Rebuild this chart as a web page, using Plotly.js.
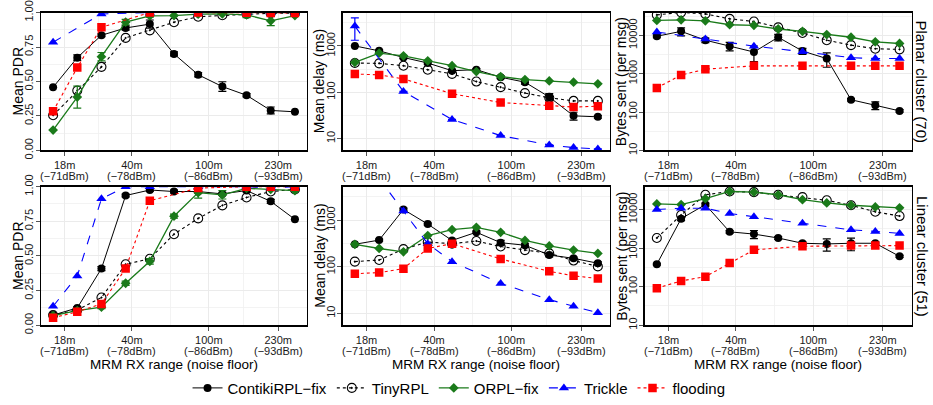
<!DOCTYPE html>
<html>
<head>
<meta charset="utf-8">
<script src="https://cdn.plot.ly/plotly-3.0.1.min.js"></script>
<style>html,body{margin:0;padding:0;background:#fff;}#chart{width:933px;height:405px;}</style>
</head>
<body>
<div id="chart"></div>
<script>
// ---- x settings (index of MRM RX range setting) ----
const X_INDEX = [0, 1, 2, 3, 4, 5, 6, 7, 8, 9, 10];
const X_TICK_POS = [0.48, 3.26, 6.44, 9.31];
const X_TICK_RANGE = ["18m", "40m", "100m", "230m"];
const X_TICK_NOISE = ["(−71dBm)", "(−78dBm)", "(−86dBm)", "(−93dBm)"];
const SERIES_NAMES = ["ContikiRPL−fix", "TinyRPL", "ORPL−fix", "Trickle", "flooding"];
const ROW_LABELS = ["Planar cluster (70)", "Linear cluster (51)"];
const Y_TITLES = ["Mean PDR", "Mean delay (ms)", "Bytes sent (per msg)"];

// ---- Planar cluster: PDR ----
const PLANAR_PDR_CONTIKI = [0.458, 0.673, 0.835, 0.888, 0.916, 0.700, 0.549, 0.463, 0.400, 0.290, 0.280];
const PLANAR_PDR_CONTIKI_ERR = [0, 0.02, 0.01, 0.015, 0.03, 0.015, 0.015, 0.035, 0.012, 0.025, 0];
const PLANAR_PDR_TINY = [0.255, 0.434, 0.606, 0.816, 0.871, 0.930, 0.970, 0.980, 0.990, 0.995, 0.995];
const PLANAR_PDR_ORPL = [0.148, 0.387, 0.680, 0.930, 0.976, 0.978, 0.988, 0.990, 0.983, 0.940, 0.978];
const PLANAR_PDR_ORPL_ERR = [0, 0.08, 0.03, 0.02, 0.01, 0, 0, 0, 0.02, 0.035, 0];
const PLANAR_PDR_TRICKLE = [0.785, null, 0.990, null, 1.0, null, 1.0, null, 1.0, 1.0, 1.0];
const PLANAR_PDR_FLOOD = [0.284, 0.601, 0.893, null, 1.0, null, 1.0, null, 0.998, 0.997, 0.997];

// ---- Planar cluster: delay (ms) ----
const PLANAR_DELAY_CONTIKI = [1000, 782, 563, 427, 292, 307, 211, 165, 79, 31, 29.5];
const PLANAR_DELAY_CONTIKI_ERR = [0, 40, 30, 25, 20, 15, 15, 15, 14, 6, 2];
const PLANAR_DELAY_TINY = [427, 420, 374, 307, 249, 170, 129, 96, 76, 65, 65];
const PLANAR_DELAY_ORPL = [441, 697, 612, 478, 374, 279, 218, 188, 176, 165, 152];
const PLANAR_DELAY_TRICKLE = [2674, null, 104, null, 25.9, null, 11.6, null, 7.3, 6.4, 6.0];
const PLANAR_DELAY_TRICKLE_ERR = [1350, 0, 0, 0, 0, 0, 0, 0, 0, 0, 0];
const PLANAR_DELAY_FLOOD = [248, 237, 194, null, 93, null, 60, null, 51, 48, 50];

// ---- Planar cluster: bytes sent (per msg) ----
const PLANAR_BYTES_CONTIKI = [9425, 12660, 7440, 5210, 3656, 8880, 3880, 2467, 209, 150, 107];
const PLANAR_BYTES_CONTIKI_ERR = [800, 3000, 1000, 1300, 1600, 1700, 700, 1000, 15, 35, 8];
const PLANAR_BYTES_TINY = [33950, 39500, 36000, 26800, 22900, 16050, 11480, 7440, 5530, 4460, 4290];
const PLANAR_BYTES_ORPL = [24300, 25300, 23800, 18800, 18100, 14560, 12680, 10400, 8880, 6740, 6110];
const PLANAR_BYTES_TRICKLE = [12180, null, 8050, null, 5210, null, 3730, null, 2610, 2470, 2470];
const PLANAR_BYTES_FLOOD = [425, 918, 1310, null, 1596, null, 1596, null, 1596, 1596, 1596];

// ---- Linear cluster: PDR ----
const LINEAR_PDR_CONTIKI = [0.073, 0.125, 0.409, 0.936, 0.976, 0.965, 0.965, 0.948, 0.972, 0.894, 0.764];
const LINEAR_PDR_CONTIKI_ERR = [0.01, 0.01, 0.015, 0.01, 0.01, 0.01, 0.01, 0.01, 0.01, 0.015, 0];
const LINEAR_PDR_TINY = [0.073, 0.110, 0.200, 0.440, 0.480, 0.657, 0.771, 0.865, 0.922, 0.965, 0.980];
const LINEAR_PDR_ORPL = [0.070, 0.106, 0.130, 0.303, 0.461, 0.787, 0.957, 0.941, 0.988, 0.980, 0.972];
const LINEAR_PDR_ORPL_ERR = [0, 0, 0.01, 0.015, 0.02, 0.015, 0.04, 0.03, 0, 0, 0];
const LINEAR_PDR_TRICKLE = [0.137, 0.355, 0.913, 1.0, 1.0, null, 1.0, null, 1.0, 0.99, 1.0];
const LINEAR_PDR_FLOOD = [0.054, 0.097, 0.154, 0.409, 0.898, null, 0.99, null, 1.0, 1.0, 1.0];

// ---- Linear cluster: delay (ms) ----
const LINEAR_DELAY_CONTIKI = [304, 374, 1700, 825, 368, 551, 329, 290, 179, 152, 119];
const LINEAR_DELAY_CONTIKI_ERR = [10, 20, 120, 40, 20, 30, 40, 30, 15, 10, 8];
const LINEAR_DELAY_TINY = [129, 140, 239, 340, 314, 357, 272, 228, 194, 136, 102];
const LINEAR_DELAY_ORPL = [304, 247, 210, 469, 627, 702, 551, 368, 280, 228, 194];
const LINEAR_DELAY_TRICKLE = [30000, 7850, 1570, 314, 129, null, 44, null, 19.7, 14.3, 10.3];
const LINEAR_DELAY_FLOOD = [71, 75, 91, 247, 314, null, 147, null, 80, 64, 56];

// ---- Linear cluster: bytes sent (per msg) ----
const LINEAR_BYTES_CONTIKI = [381, 5780, 13400, 2640, 2306, 1825, 1334, 1282, 1334, 1334, 610];
const LINEAR_BYTES_CONTIKI_ERR = [20, 600, 1200, 200, 550, 150, 120, 450, 480, 100, 40];
const LINEAR_BYTES_TINY = [1825, 7180, 24100, 29300, 28200, 24100, 21000, 17300, 12900, 8720, 6760];
const LINEAR_BYTES_ORPL = [13940, 13400, 19070, 29300, 28200, 24100, 18000, 14800, 12900, 11700, 11030];
const LINEAR_BYTES_TRICKLE = [10000, 10800, 10800, 7910, 6500, null, 4400, null, 2970, 2700, 2400];
const LINEAR_BYTES_FLOOD = [91, 141, 181, 412, 902, null, 1117, null, 1160, 1160, 1160];

// ---- styling ----
const STYLES = [
  {color: "#000000", symbol: "circle", size: 8, dash: "solid", width: 1},
  {color: "#000000", symbol: "circle-open-dot", size: 9, dash: "dot", width: 1.1},
  {color: "#1a7a1a", symbol: "diamond", size: 7.5, dash: "solid", width: 1.3},
  {color: "#0000ff", symbol: "triangle-up", size: 9, dash: "dash", width: 1.1},
  {color: "#ff0000", symbol: "square", size: 8.5, dash: "dot", width: 1.1}
];

const PANELS = [
  [[PLANAR_PDR_CONTIKI, PLANAR_PDR_TINY, PLANAR_PDR_ORPL, PLANAR_PDR_TRICKLE, PLANAR_PDR_FLOOD],
   [PLANAR_PDR_CONTIKI_ERR, null, PLANAR_PDR_ORPL_ERR, null, null]],
  [[PLANAR_DELAY_CONTIKI, PLANAR_DELAY_TINY, PLANAR_DELAY_ORPL, PLANAR_DELAY_TRICKLE, PLANAR_DELAY_FLOOD],
   [PLANAR_DELAY_CONTIKI_ERR, null, null, PLANAR_DELAY_TRICKLE_ERR, null]],
  [[PLANAR_BYTES_CONTIKI, PLANAR_BYTES_TINY, PLANAR_BYTES_ORPL, PLANAR_BYTES_TRICKLE, PLANAR_BYTES_FLOOD],
   [PLANAR_BYTES_CONTIKI_ERR, null, null, null, null]],
  [[LINEAR_PDR_CONTIKI, LINEAR_PDR_TINY, LINEAR_PDR_ORPL, LINEAR_PDR_TRICKLE, LINEAR_PDR_FLOOD],
   [LINEAR_PDR_CONTIKI_ERR, null, LINEAR_PDR_ORPL_ERR, null, null]],
  [[LINEAR_DELAY_CONTIKI, LINEAR_DELAY_TINY, LINEAR_DELAY_ORPL, LINEAR_DELAY_TRICKLE, LINEAR_DELAY_FLOOD],
   [LINEAR_DELAY_CONTIKI_ERR, null, null, null, null]],
  [[LINEAR_BYTES_CONTIKI, LINEAR_BYTES_TINY, LINEAR_BYTES_ORPL, LINEAR_BYTES_TRICKLE, LINEAR_BYTES_FLOOD],
   [LINEAR_BYTES_CONTIKI_ERR, null, null, null, null]]
];

const W = 933, H = 405;
const COL_PX = [[41, 307], [342.7, 610], [644.7, 911.7]];
const ROW_PX = [[12.7, 152.3], [189, 329.3]];
const FONT = "Liberation Sans, Arial, Helvetica, sans-serif";

const traces = [];
const layout = {
  width: W, height: H,
  margin: {l: 0, r: 0, t: 0, b: 0},
  paper_bgcolor: "#fff", plot_bgcolor: "#fff",
  font: {family: FONT, size: 11, color: "#1a1a1a"},
  showlegend: true,
  legend: {orientation: "h", x: 0.492, xanchor: "center", y: 1 - 393 / H, yanchor: "middle",
           font: {size: 15, color: "#000"}, itemwidth: 30, tracegroupgap: 0, bgcolor: "rgba(0,0,0,0)"},
  annotations: [],
  shapes: []
};

const midpoints = [];
for (let i = 0; i < X_TICK_POS.length - 1; i++) midpoints.push((X_TICK_POS[i] + X_TICK_POS[i + 1]) / 2);

for (let p = 0; p < 6; p++) {
  const row = Math.floor(p / 3), col = p % 3;
  const ax = p + 1;
  const xa = "xaxis" + (ax === 1 ? "" : ax), ya = "yaxis" + (ax === 1 ? "" : ax);
  const xref = "x" + (ax === 1 ? "" : ax), yref = "y" + (ax === 1 ? "" : ax);
  const dom_x = [COL_PX[col][0] / W, COL_PX[col][1] / W];
  const dom_y = [1 - ROW_PX[row][1] / H, 1 - ROW_PX[row][0] / H];

  layout[xa] = {
    domain: dom_x, anchor: yref, range: [-0.5, 10.5],
    tickmode: "array", tickvals: X_TICK_POS, ticktext: X_TICK_RANGE,
    ticks: "outside", ticklen: 4, tickcolor: "#555", tickwidth: 1,
    tickfont: {size: 11, color: "#1a1a1a"},
    showline: true, mirror: true, linecolor: "#000", linewidth: 1.4,
    showgrid: true, gridcolor: "#ebebeb", gridwidth: 1,
    minor: {tickmode: "array", tickvals: midpoints, showgrid: true, gridcolor: "#f0f0f0", gridwidth: 0.8, ticks: ""},
    zeroline: false, fixedrange: true
  };
  let yax;
  if (col === 0) {
    yax = {type: "linear", range: [0, 1], tickmode: "array", tickvals: [0, 0.25, 0.5, 0.75, 1],
           ticktext: ["0.00", "0.25", "0.50", "0.75", "1.00"],
           minor: {tickmode: "array", tickvals: [0.125, 0.375, 0.625, 0.875], showgrid: true, gridcolor: "#f0f0f0", gridwidth: 0.8, ticks: ""}};
  } else if (col === 1) {
    yax = {type: "log", range: [0.745, 3.72], tickmode: "array", tickvals: [10, 100, 1000], ticktext: ["10", "100", "1000"],
           minor: {tickmode: "array", tickvals: [31.62, 316.2, 3162], showgrid: true, gridcolor: "#f0f0f0", gridwidth: 0.8, ticks: ""}};
  } else {
    yax = {type: "log", range: [1, 4.592], tickmode: "array", tickvals: [10, 100, 1000, 10000], ticktext: ["10", "100", "1000", "10000"],
           minor: {tickmode: "array", tickvals: [31.62, 316.2, 3162, 31623], showgrid: true, gridcolor: "#f0f0f0", gridwidth: 0.8, ticks: ""}};
  }
  Object.assign(yax, {
    domain: dom_y, anchor: xref, tickangle: -90, ticklabelstandoff: -2,
    ticks: "outside", ticklen: 4, tickcolor: "#555", tickwidth: 1,
    tickfont: {size: 11, color: "#1a1a1a"},
    showline: true, mirror: true, linecolor: "#000", linewidth: 1.4,
    showgrid: true, gridcolor: "#ebebeb", gridwidth: 1,
    zeroline: false, fixedrange: true
  });
  layout[ya] = yax;

  const [vals, errs] = PANELS[p];
  for (let s = 0; s < 5; s++) {
    const st = STYLES[s];
    const tr = {
      type: "scatter", mode: "lines+markers", x: X_INDEX, y: vals[s],
      xaxis: xref, yaxis: yref, name: SERIES_NAMES[s], legendgroup: SERIES_NAMES[s],
      showlegend: p === 0, connectgaps: true,
      line: {color: st.color, dash: st.dash, width: st.width},
      marker: {color: st.color, symbol: st.symbol, size: st.size, line: {color: st.color, width: s === 1 ? 1.1 : 0}},
      hoverinfo: "skip"
    };
    if (errs[s]) {
      tr.error_y = {type: "data", array: errs[s], symmetric: true, color: st.color, thickness: 1.2, width: 4};
    }
    traces.push(tr);
  }

  // second line of the x tick labels (noise floor)
  for (let t = 0; t < X_TICK_POS.length; t++) {
    layout.annotations.push({
      xref: xref, yref: "paper", x: X_TICK_POS[t], y: 1 - (ROW_PX[row][1] + 26) / H,
      text: X_TICK_NOISE[t], showarrow: false, xanchor: "center", yanchor: "middle",
      font: {size: 11, color: "#1a1a1a"}, borderpad: 0
    });
  }

  // y-axis title
  layout.annotations.push({
    xref: "paper", yref: "paper",
    x: (COL_PX[col][0] - 23) / W, y: (dom_y[0] + dom_y[1]) / 2,
    text: Y_TITLES[col], textangle: -90, showarrow: false,
    xanchor: "center", yanchor: "middle", font: {size: 14, color: "#000"}
  });
  // x-axis title (bottom row)
  if (row === 1) {
    layout.annotations.push({
      xref: "paper", yref: "paper",
      x: (COL_PX[col][0] + COL_PX[col][1]) / 2 / W, y: 1 - 369.5 / H,
      text: "MRM RX range (noise floor)", showarrow: false,
      xanchor: "center", yanchor: "middle", font: {size: 13.5, color: "#000"}, borderpad: 0
    });
  }
}
// row strip labels
for (let r = 0; r < 2; r++) {
  layout.annotations.push({
    xref: "paper", yref: "paper",
    x: 922 / W, y: 1 - (ROW_PX[r][0] + ROW_PX[r][1]) / 2 / H,
    text: ROW_LABELS[r], textangle: 90, showarrow: false,
    xanchor: "center", yanchor: "middle", font: {size: 15, color: "#000"}
  });
}

Plotly.newPlot("chart", traces, layout, {staticPlot: true, displayModeBar: false});
</script>
</body>
</html>
